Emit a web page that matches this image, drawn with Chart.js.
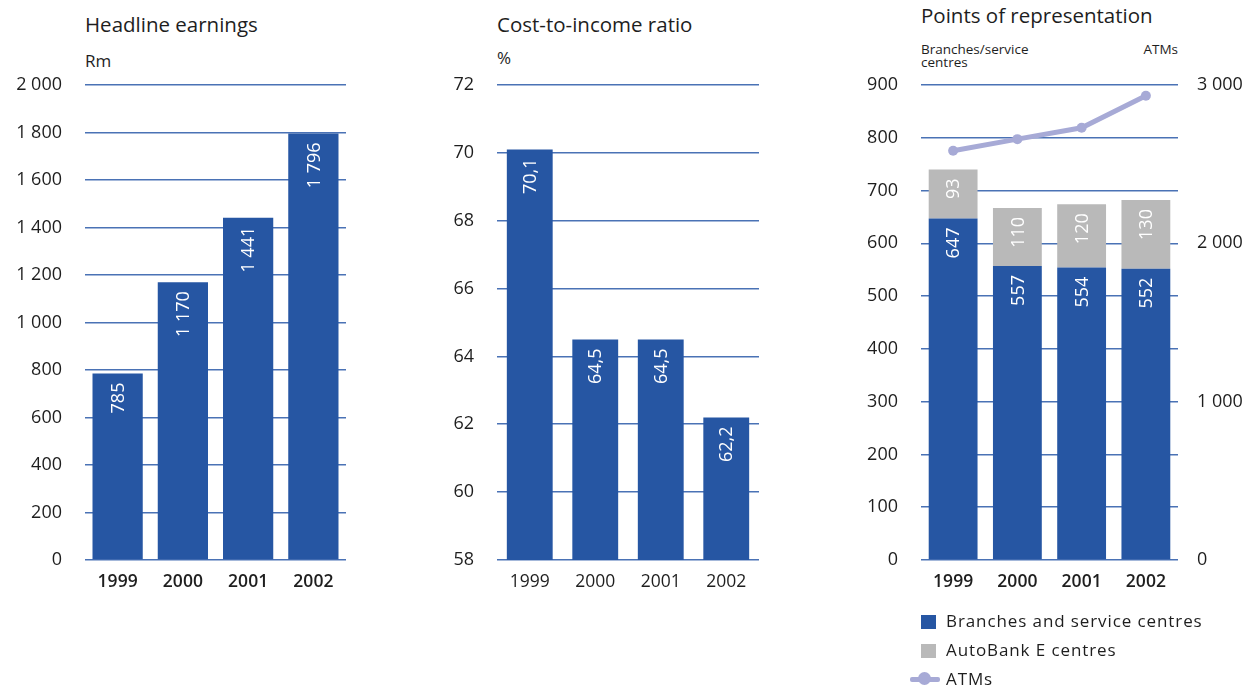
<!DOCTYPE html>
<html>
<head>
<meta charset="utf-8">
<script src="https://cdn.jsdelivr.net/npm/chart.js@4.4.1/dist/chart.umd.min.js"></script>
<style>
  html, body { margin: 0; padding: 0; background: #fff; }
  body { width: 1247px; height: 688px; position: relative; overflow: hidden;
         font-family: "Open Sans", sans-serif; color: #1e1e1e; }
  .box { position: absolute; top: 0; height: 688px; }
  .txt { position: absolute; white-space: nowrap; }
  .title { font-size: 20.5px; }
  .unit { font-size: 17px; }
  .small { font-size: 13.5px; line-height: 13px; }
  #legend { position: absolute; left: 908px; top: 608px; font-size: 17px; letter-spacing: 0.9px; }
  #legend .item { position: relative; height: 29px; padding-left: 38px; line-height: 26px; }
  #legend .sw { position: absolute; left: 13px; top: 7px; width: 15px; height: 14px; }
  #legend .ln { position: absolute; left: 2px; top: 11px; width: 30px; height: 5px; border-radius: 2px; }
  #legend .dot { position: absolute; left: 10px; top: 6px; width: 13px; height: 13px; border-radius: 50%; }
</style>
</head>
<body>

<div class="txt title" style="left:85px; top:10px;">Headline earnings</div>
<div class="txt unit" style="left:85px; top:49px;">Rm</div>

<div class="txt title" style="left:497px; top:10px;">Cost-to-income ratio</div>
<div class="txt unit" style="left:497px; top:46px;">%</div>

<div class="txt title" style="left:921px; top:1px;">Points of representation</div>
<div class="txt small" style="left:921px; top:43px;">Branches/service<br>centres</div>
<div class="txt small" style="right:69px; top:43px;">ATMs</div>

<div class="box" style="left:0; width:360px;"><canvas id="earningsChart"></canvas></div>
<div class="box" style="left:420px; width:360px;"><canvas id="ratioChart"></canvas></div>
<div class="box" style="left:840px; width:407px;"><canvas id="pointsChart"></canvas></div>
<div id="legend"></div>

<script>
// Data
const years = ['1999', '2000', '2001', '2002'];
const earnings = [785, 1170, 1441, 1796];
const costRatio = [70.1, 64.5, 64.5, 62.2];
const branches = [647, 557, 554, 552];
const autobank = [93, 110, 120, 130];
const atms = [2585, 2658, 2730, 2932];

const earningsTicks = { min: 0, max: 2000, step: 200 };
const ratioTicks = { min: 58, max: 72, step: 2 };
const pointsTicks = { min: 0, max: 900, step: 100 };
const atmTicks = { min: 0, max: 3000, step: 1000 };

const seriesNames = ['Branches and service centres', 'AutoBank E centres', 'ATMs'];

// Colours
const BLUE = '#2656a3';
const GREY = '#b9b9b9';
const LILAC = '#a7aad6';
const GRID = '#4a72b5';
const TEXT = '#1e1e1e';
const FONT = '"Open Sans", sans-serif';

// Number formats: space for thousands, comma for decimals
function thousands(n) {
    return String(n).replace(/\B(?=(\d{3})+(?!\d))/g, ' ');
}
function decimal(n) {
    return n.toFixed(1).replace('.', ',');
}

// Writes each bar's value vertically just inside its top edge
const barValues = {
    id: 'barValues',
    afterDatasetsDraw(chart, args, opts) {
        const ctx = chart.ctx;
        ctx.save();
        ctx.fillStyle = '#fff';
        ctx.font = '18px ' + FONT;
        ctx.textAlign = 'right';
        ctx.textBaseline = 'middle';
        chart.data.datasets.forEach((ds, i) => {
            if (ds.type === 'line') return;
            chart.getDatasetMeta(i).data.forEach((bar, j) => {
                ctx.save();
                ctx.translate(bar.x + 1, bar.y + opts.pad);
                ctx.rotate(-Math.PI / 2);
                ctx.fillText(opts.format(ds.data[j]), 0, 0);
                ctx.restore();
            });
        });
        ctx.restore();
    }
};

// Fixes the plot area so the three panels line up
function fixWidth(w) {
    return function(scale) {
        scale.width = w;
        scale.paddingTop = 0;
        scale.paddingBottom = 0;
    };
}
function fixHeight(h) {
    return function(scale) {
        scale.height = h;
        scale.paddingLeft = 0;
        scale.paddingRight = 0;
    };
}

function yScale(t, width, fmt) {
    return {
        min: t.min,
        max: t.max,
        afterFit: fixWidth(width),
        border: { display: false },
        grid: { color: GRID, lineWidth: 1.6, drawTicks: false },
        ticks: {
            stepSize: t.step,
            padding: 23,
            color: TEXT,
            font: { family: FONT, size: 18 },
            callback: v => fmt(v)
        }
    };
}

function xScale(bold) {
    return {
        afterFit: fixHeight(40),
        border: { display: false },
        grid: { display: false, drawTicks: false },
        ticks: {
            padding: 12,
            color: TEXT,
            font: { family: FONT, size: 17.5, weight: bold ? '600' : 'normal' }
        }
    };
}

const common = {
    responsive: true,
    maintainAspectRatio: false,
    animation: false,
    events: [],
    plugins: { legend: { display: false }, tooltip: { enabled: false }, title: { display: false } }
};

Chart.defaults.font.family = FONT;

// Headline earnings
new Chart(document.getElementById('earningsChart'), {
    type: 'bar',
    data: {
        labels: years,
        datasets: [{
            label: 'Headline earnings',
            data: earnings,
            backgroundColor: BLUE,
            barPercentage: 0.77,
            categoryPercentage: 1
        }]
    },
    options: Object.assign({}, common, {
        layout: { padding: { top: 85, right: 14, bottom: 88, left: 0 } },
        scales: {
            x: xScale(true),
            y: yScale(earningsTicks, 85, thousands)
        },
        plugins: Object.assign({}, common.plugins, { barValues: { pad: 9, format: thousands } })
    }),
    plugins: [barValues]
});

// Cost-to-income ratio
new Chart(document.getElementById('ratioChart'), {
    type: 'bar',
    data: {
        labels: years,
        datasets: [{
            label: 'Cost-to-income ratio',
            data: costRatio,
            backgroundColor: BLUE,
            barPercentage: 0.70,
            categoryPercentage: 1
        }]
    },
    options: Object.assign({}, common, {
        layout: { padding: { top: 85, right: 21, bottom: 88, left: 0 } },
        scales: {
            x: xScale(false),
            y: yScale(ratioTicks, 77, v => String(v))
        },
        plugins: Object.assign({}, common.plugins, { barValues: { pad: 9, format: decimal } })
    }),
    plugins: [barValues]
});

// Points of representation
const pointsChart = new Chart(document.getElementById('pointsChart'), {
    type: 'bar',
    data: {
        labels: years,
        datasets: [
            {
                label: seriesNames[0],
                data: branches,
                backgroundColor: BLUE,
                barPercentage: 0.76,
                categoryPercentage: 1,
                order: 2
            },
            {
                label: seriesNames[1],
                data: autobank,
                backgroundColor: GREY,
                barPercentage: 0.76,
                categoryPercentage: 1,
                order: 2
            },
            {
                type: 'line',
                label: seriesNames[2],
                data: atms,
                yAxisID: 'y1',
                borderColor: LILAC,
                backgroundColor: LILAC,
                borderWidth: 5,
                pointRadius: 5,
                pointBorderWidth: 0,
                tension: 0,
                order: 1
            }
        ]
    },
    options: Object.assign({}, common, {
        layout: { padding: { top: 85, right: 0, bottom: 88, left: 0 } },
        scales: {
            x: Object.assign(xScale(true), { stacked: true }),
            y: Object.assign(yScale(pointsTicks, 81, v => String(v)), { stacked: true }),
            y1: {
                position: 'right',
                min: atmTicks.min,
                max: atmTicks.max,
                afterFit: fixWidth(69),
                border: { display: false },
                grid: { display: false, drawTicks: false },
                ticks: {
                    stepSize: atmTicks.step,
                    padding: 19,
                    color: TEXT,
                    font: { family: FONT, size: 18 },
                    callback: v => thousands(v)
                }
            }
        },
        plugins: Object.assign({}, common.plugins, { barValues: { pad: 9, format: thousands } })
    }),
    plugins: [barValues]
});

// Legend for the points panel, built from its datasets
const legend = document.getElementById('legend');
pointsChart.data.datasets.forEach(ds => {
    const item = document.createElement('div');
    item.className = 'item';
    if (ds.type === 'line') {
        item.innerHTML = '<span class="ln"></span><span class="dot"></span>';
        item.querySelector('.ln').style.background = ds.borderColor;
        item.querySelector('.dot').style.background = ds.borderColor;
    } else {
        item.innerHTML = '<span class="sw"></span>';
        item.querySelector('.sw').style.background = ds.backgroundColor;
    }
    item.appendChild(document.createTextNode(ds.label));
    legend.appendChild(item);
});
</script>
</body>
</html>
